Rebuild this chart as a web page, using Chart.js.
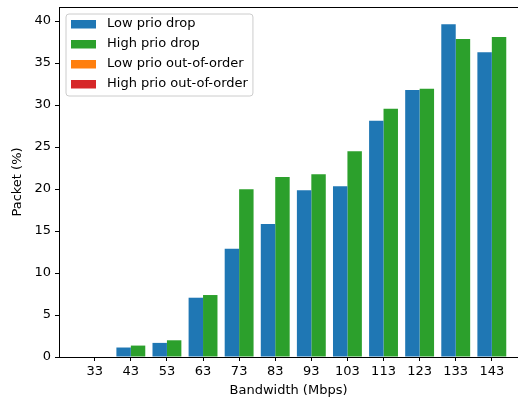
<!DOCTYPE html>
<html>
<head>
<meta charset="utf-8">
<script src="https://cdn.jsdelivr.net/npm/chart.js@4/dist/chart.umd.min.js"></script>
<style>
  html, body { margin: 0; padding: 0; background: #fff; overflow: hidden; }
  canvas { display: block; }
</style>
</head>
<body>
<canvas id="drops" width="518" height="399"></canvas>
<script>
// bandwidth steps and packet percentages per series
var bandwidth = [33, 43, 53, 63, 73, 83, 93, 103, 113, 123, 133, 143];
var lowDrop  = [0, 1.13, 1.68, 7.06, 12.9, 15.84, 19.87, 20.34, 28.13, 31.8, 39.64, 36.28];
var highDrop = [0, 1.36, 1.99, 7.38, 19.97, 21.45, 21.77, 24.5, 29.56, 31.93, 37.86, 38.1];
var lowOoo   = [0, 0, 0, 0, 0, 0, 0, 0, 0, 0, 0, 0];
var highOoo  = [0, 0, 0, 0, 0, 0, 0, 0, 0, 0, 0, 0];
var yTicks = [0, 5, 10, 15, 20, 25, 30, 35, 40];

var FONT = "'DejaVu Sans', sans-serif";
var FS = 13;

// top edge of the axes box
var framePlugin = {
  id: 'frame',
  afterDatasetsDraw: function(chart) {
    var a = chart.chartArea, ctx = chart.ctx;
    ctx.save();
    ctx.strokeStyle = '#000';
    ctx.lineWidth = 1;
    ctx.beginPath();
    ctx.moveTo(a.left, a.top + 0.5);
    ctx.lineTo(a.right, a.top + 0.5);
    ctx.stroke();
    ctx.restore();
  }
};

// legend boxed in the upper left of the plot
var boxLegend = {
  id: 'boxLegend',
  afterDraw: function(chart) {
    var ctx = chart.ctx, a = chart.chartArea;
    var sets = chart.data.datasets;
    ctx.save();
    ctx.font = FS + 'px ' + FONT;
    var maxW = 0;
    sets.forEach(function(ds) { maxW = Math.max(maxW, ctx.measureText(ds.label).width); });
    var x = a.left + 7, y = a.top + 7;
    var w = 41 + maxW + 5, h = 82, r = 3;
    ctx.beginPath();
    ctx.moveTo(x + r, y);
    ctx.arcTo(x + w, y, x + w, y + h, r);
    ctx.arcTo(x + w, y + h, x, y + h, r);
    ctx.arcTo(x, y + h, x, y, r);
    ctx.arcTo(x, y, x + w, y, r);
    ctx.closePath();
    ctx.fillStyle = 'rgba(255,255,255,0.8)';
    ctx.fill();
    ctx.strokeStyle = '#cccccc';
    ctx.lineWidth = 1;
    ctx.stroke();
    ctx.textBaseline = 'middle';
    sets.forEach(function(ds, i) {
      var cy = y + 10 + i * 20;
      ctx.fillStyle = ds.backgroundColor;
      ctx.fillRect(x + 5, cy - 4, 25, 8.5);
      ctx.fillStyle = '#000';
      ctx.fillText(ds.label, x + 41, cy);
    });
    ctx.restore();
  }
};

var ctx = document.getElementById('drops');
var chart = new Chart(ctx, {
  type: 'bar',
  data: {
    labels: bandwidth,
    datasets: [
      { label: 'Low prio drop', data: lowDrop, backgroundColor: '#1f77b4', stack: 'low' },
      { label: 'High prio drop', data: highDrop, backgroundColor: '#2ca02c', stack: 'high' },
      { label: 'Low prio out-of-order', data: lowOoo, backgroundColor: '#ff7f0e', stack: 'low' },
      { label: 'High prio out-of-order', data: highOoo, backgroundColor: '#d62728', stack: 'high' }
    ]
  },
  options: {
    responsive: false,
    animation: false,
    categoryPercentage: 0.8,
    barPercentage: 1.0,
    layout: { padding: { top: 7, right: 0, left: 0, bottom: 0 } },
    plugins: {
      legend: { display: false },
      tooltip: { enabled: false }
    },
    scales: {
      x: {
        type: 'linear',
        offset: false,
        min: 23.1,
        max: 150.25,
        afterBuildTicks: function(scale) {
          scale.ticks = bandwidth.map(function(v) { return { value: v }; });
        },
        afterFit: function(scale) {
          scale.height = 42;
          scale.paddingLeft = 0;
          scale.paddingRight = 0;
        },
        grid: { offset: false, drawOnChartArea: false, drawTicks: true, tickLength: 4, color: '#000' },
        border: { display: true, color: '#000', width: 1 },
        ticks: { color: '#000', font: { family: FONT, size: FS }, padding: 3, maxRotation: 0, autoSkip: false },
        title: { display: true, text: 'Bandwidth (Mbps)', color: '#000', font: { family: FONT, size: FS }, padding: { top: 0, bottom: 1 } }
      },
      y: {
        stacked: true,
        min: 0,
        max: 41.68,
        afterBuildTicks: function(scale) {
          scale.ticks = yTicks.map(function(v) { return { value: v }; });
        },
        afterFit: function(scale) {
          scale.width = 59;
          scale.paddingTop = 0;
          scale.paddingBottom = 0;
        },
        grid: { drawOnChartArea: false, drawTicks: true, tickLength: 4, color: '#000' },
        border: { display: true, color: '#000', width: 1 },
        ticks: { color: '#000', font: { family: FONT, size: FS }, padding: 4 },
        title: { display: true, text: 'Packet (%)', color: '#000', font: { family: FONT, size: FS }, padding: { top: 10, bottom: 0 } }
      }
    }
  },
  plugins: [framePlugin, boxLegend]
});
</script>
</body>
</html>
